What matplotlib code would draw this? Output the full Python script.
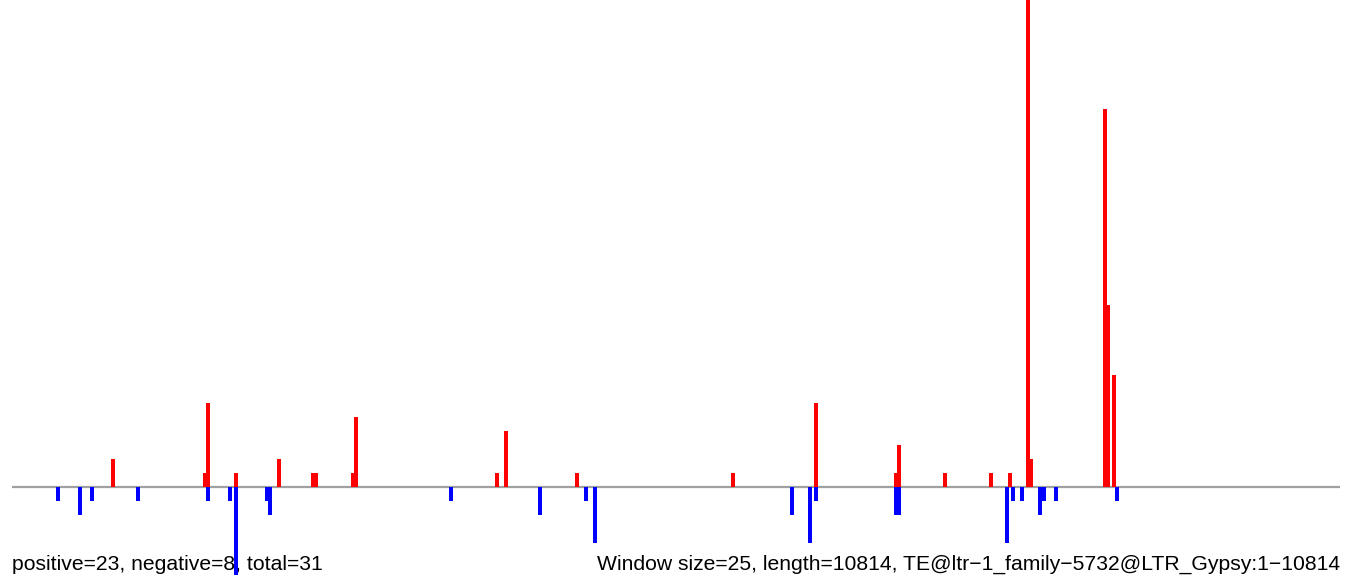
import matplotlib
matplotlib.use('Agg')
import matplotlib.pyplot as plt

# positions (bp, window start) and values of each window
pos_red = [825, 1575, 1600, 1825, 2175, 2450, 2475, 2775, 2800, 3950, 4025,
           4600, 5875, 6550, 7200, 7225, 7600, 7975, 8125, 8275, 8300,
           8900, 8925, 8975]
val_red = [2, 1, 6, 1, 2, 1, 1, 1, 5, 1, 4,
           1, 1, 6, 1, 3, 1, 1, 1, 40, 2,
           27, 13, 8]

pos_blue = [375, 550, 650, 1025, 1600, 1775, 1825, 2075, 2100, 3575, 4300,
            4675, 4750, 6350, 6500, 6550, 7200, 7225, 8100, 8150, 8225,
            8375, 8400, 8500, 9000]
val_blue = [-1, -2, -1, -1, -1, -1, -6.3, -1, -2, -1, -2,
            -1, -4, -2, -4, -1, -2, -2, -4, -1, -1,
            -2, -1, -1, -1]

seq_len = 10814
left_text = "positive=23, negative=8, total=31"
right_text = "Window size=25, length=10814, TE@ltr\u22121_family\u22125732@LTR_Gypsy:1\u221210814"

plt.rcParams['font.family'] = ['Liberation Sans', 'DejaVu Sans']

fig = plt.figure(figsize=(13.52, 5.82), dpi=100)
W, H = 1352, 582
# plot region: x 12..1340 px, y 0..577 px
ax = fig.add_axes([12 / W, (H - 577) / H, 1328 / W, 577 / H])
ax.set_xlim(0, seq_len)
ax.set_ylim(-(577 - 487) / 14, 487 / 14)
ax.axis('off')

ax.axhline(0, color='#a0a0a0', lw=1.6, zorder=1)
bw = 4 * seq_len / 1328
ax.bar(pos_red, val_red, width=bw, color='#ff0000', antialiased=False, zorder=2)
ax.bar(pos_blue, val_blue, width=bw, color='#0000ff', antialiased=False, zorder=2)

ax.text(12 / W, 1 - 564 / H, left_text, transform=fig.transFigure, ha='left',
        va='center', fontsize=15.2, color='black', zorder=0, clip_on=False)
ax.text(1340 / W, 1 - 564 / H, right_text, transform=fig.transFigure, ha='right',
        va='center', fontsize=15.2, color='black', zorder=0, clip_on=False)

fig.savefig('out.png', dpi=100)
